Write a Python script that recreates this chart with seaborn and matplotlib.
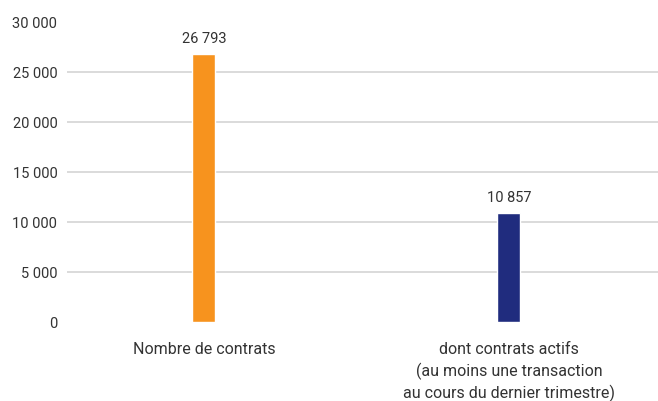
import matplotlib
matplotlib.use("Agg")
import matplotlib.pyplot as plt
import seaborn as sns
import pandas as pd

categories = [
    "Nombre de contrats",
    "dont contrats actifs\n(au moins une transaction\nau cours du dernier trimestre)",
]
values = [26793, 10857]
colors = ["#F7931E", "#202C7E"]
y_ticks = [0, 5000, 10000, 15000, 20000, 25000, 30000]

sns.set_theme(style="white")
plt.rcParams["font.family"] = ["Roboto", "DejaVu Sans"]
text_color = "#333333"

df = pd.DataFrame({"cat": categories, "val": values})

fig = plt.figure(figsize=(6.58, 4.02), dpi=100)
ax = fig.add_axes([67 / 658, (402 - 323) / 402, 1 - 67 / 658, 300 / 402])

sns.barplot(data=df, x="cat", y="val", hue="cat", palette=colors,
            width=0.075, legend=False, ax=ax, saturation=1, zorder=3)

def fmt(v):
    return f"{v:,}".replace(",", " ")

ax.set_ylim(0, 30000)
ax.set_yticks(y_ticks)
ax.set_yticklabels([fmt(v) for v in y_ticks], fontsize=10.5, color=text_color)
ax.set_xlim(-0.449, 1.489)
ax.tick_params(axis="both", length=0)
ax.tick_params(axis="y", pad=7)
ax.tick_params(axis="x", pad=14)
for lbl in ax.get_xticklabels():
    lbl.set_fontsize(11.5)
    lbl.set_color(text_color)
    lbl.set_linespacing(1.36)
ax.set_xlabel("")
ax.set_ylabel("")

ax.yaxis.grid(True, color="#d4d4d4", linewidth=1.2, zorder=0)
grid = ax.get_ygridlines()
grid[0].set_visible(False)
grid[-1].set_visible(False)
for s in ax.spines.values():
    s.set_visible(False)

for i, v in enumerate(values):
    ax.annotate(fmt(v), (i, v), xytext=(0, 6.5), textcoords="offset points",
                ha="center", va="bottom", fontsize=10.5, color=text_color)

fig.savefig("out.png", dpi=100)
